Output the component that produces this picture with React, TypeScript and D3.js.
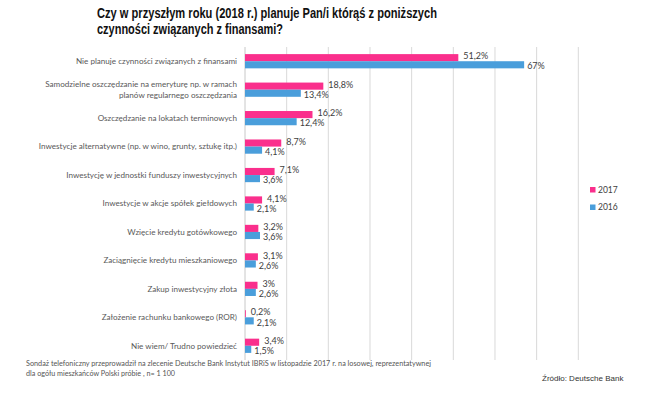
import { scaleBand, scaleLinear } from "d3";

const categories = [
  "Nie planuje czynności związanych z finansami",
  "Samodzielne oszczędzanie na emeryturę np. w ramach|planów regularnego oszczędzania",
  "Oszczędzanie na lokatach terminowych",
  "Inwestycje alternatywne (np. w wino, grunty, sztukę itp.)",
  "Inwestycję w jednostki funduszy inwestycyjnych",
  "Inwestycje w akcje spółek giełdowych",
  "Wzięcie kredytu gotówkowego",
  "Zaciągnięcie kredytu mieszkaniowego",
  "Zakup inwestycyjny złota",
  "Założenie rachunku bankowego (ROR)",
  "Nie wiem/ Trudno powiedzieć",
];

const values2017 = [51.2, 18.8, 16.2, 8.7, 7.1, 4.1, 3.2, 3.1, 3, 0.2, 3.4];
const values2016 = [67, 13.4, 12.4, 4.1, 3.6, 2.1, 3.6, 2.6, 2.6, 2.1, 1.5];

const seriesNames = ["2017", "2016"];
const seriesColors = ["#fa2f8c", "#4a9edb"];

const titleLines = [
  "Czy w przyszłym roku (2018 r.) planuje Pan/i którąś z poniższych",
  "czynności związanych z finansami?",
];
const noteLines = [
  "Sondaż telefoniczny przeprowadził na zlecenie Deutsche Bank  Instytut IBRiS w listopadzie 2017 r. na losowej, reprezentatywnej",
  "dla ogółu mieszkańców Polski próbie , n= 1 100",
];
const sourceText = "Źródło: Deutsche Bank";

const W = 645;
const H = 397;
const plot = { left: 245, right: 578.3, top: 47, bottom: 360 };

const fmt = (v: number) => String(v).replace(".", ",") + "%";

export default function App() {
  const x = scaleLinear().domain([0, 80]).range([plot.left, plot.right]);
  const y = scaleBand<string>()
    .domain(categories)
    .range([plot.top, plot.bottom])
    .paddingInner(0.5)
    .paddingOuter(0.25);
  const sub = scaleBand<string>().domain(seriesNames).range([0, y.bandwidth()]);
  const series = [values2017, values2016];
  const labelFont = "Lato, 'Open Sans', sans-serif";

  return (
    <svg
      width={W}
      height={H}
      style={{ position: "absolute", left: 0, top: 0, background: "#fff" }}
      fontFamily="'Liberation Sans', Arial, sans-serif"
    >
      <rect width={W} height={H} fill="#fff" />
      {titleLines.map((t, i) => (
        <text
          key={t}
          x={97}
          y={17.5 + i * 16}
          fontSize={14.5}
          fontWeight="bold"
          fill="#111"
          textLength={i === 0 ? 340 : 186}
          lengthAdjust="spacingAndGlyphs"
        >
          {t}
        </text>
      ))}

      {x.ticks(8).map((t) => (
        <line
          key={t}
          x1={x(t)}
          x2={x(t)}
          y1={plot.top}
          y2={plot.bottom}
          stroke={t === 0 ? "#c8c8c8" : "#d9d9d9"}
          strokeWidth={1}
        />
      ))}

      {categories.map((c, i) => {
        const y0 = y(c) ?? 0;
        const lines = c.split("|");
        const cy = y0 + y.bandwidth() / 2;
        return (
          <g key={c}>
            {lines.map((ln, j) => (
              <text
                key={ln}
                x={237}
                y={cy + (j - (lines.length - 1) / 2) * 11}
                dy="0.35em"
                textAnchor="end"
                fontSize={8.1}
                fontFamily={labelFont}
                fill="#595959"
              >
                {ln}
              </text>
            ))}
            {series.map((vals, s) => {
              const by = y0 + (sub(seriesNames[s]) ?? 0);
              const bh = sub.bandwidth();
              const v = vals[i];
              return (
                <g key={s}>
                  <rect
                    x={x(0)}
                    y={by}
                    width={x(v) - x(0)}
                    height={bh}
                    fill={seriesColors[s]}
                  />
                  <text
                    x={x(v) + (s === 0 ? 5 : 3)}
                    y={by + bh / 2 + (s === 0 ? -1.5 : 1.5)}
                    dy="0.35em"
                    fontSize={9}
                    fontFamily={labelFont}
                    fill="#404040"
                  >
                    {fmt(v)}
                  </text>
                </g>
              );
            })}
          </g>
        );
      })}

      {seriesNames.map((n, s) => (
        <g key={n} transform={`translate(590, ${190 + s * 17.5})`}>
          <rect x={0} y={-3} width={5.5} height={5.5} fill={seriesColors[s]} />
          <text x={8} y={0} dy="0.35em" fontSize={8.5} fontFamily={labelFont} fill="#404040">
            {n}
          </text>
        </g>
      ))}

      {noteLines.map((t, i) => (
        <text
          key={t}
          x={26}
          y={366 + i * 10}
          fontSize={6.8}
          fontFamily={labelFont}
          fill="#555"
          textLength={i === 0 ? 405 : 149}
          lengthAdjust="spacingAndGlyphs"
        >
          {t}
        </text>
      ))}
      <text x={542} y={381} fontSize={8} fill="#333">
        {sourceText}
      </text>
    </svg>
  );
}
